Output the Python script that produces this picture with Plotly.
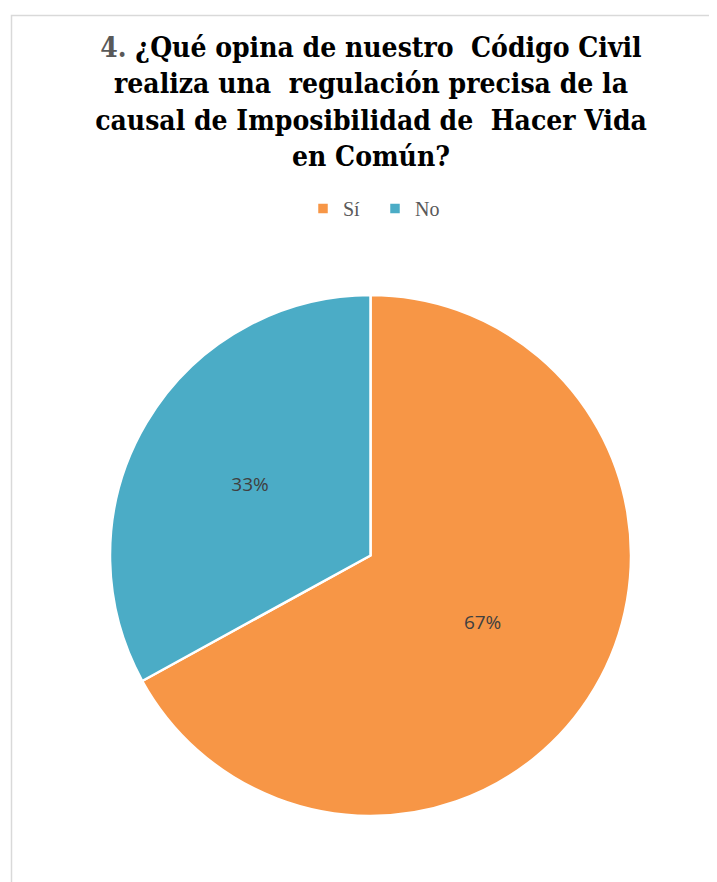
import plotly.graph_objects as go

categories = ["Sí", "No"]
values = [67, 33]
colors = ["#F79646", "#4BACC6"]

title_text = ("<span style='color:#595959'>4.</span> ¿Qué opina de nuestro  Código Civil<br>"
              "realiza una  regulación precisa de la<br>"
              "causal de Imposibilidad de  Hacer Vida<br>"
              "en Común?")

# page body has an 8px margin; work in screen pixels and convert
OFF = 8
W, H = 717 - OFF, 882 - OFF


def px(x):
    return (x - OFF) / W


def py(y):
    return 1 - (y - OFF) / H


fig = go.Figure(go.Pie(
    labels=categories,
    values=values,
    sort=False,
    direction="clockwise",
    rotation=0,
    marker=dict(colors=colors, line=dict(color="white", width=2.5)),
    texttemplate="%{percent:.0%}",
    textposition="inside",
    insidetextorientation="horizontal",
    textfont=dict(family="Open Sans", size=19, color="#404040"),
    hoverinfo="label+percent",
    domain=dict(x=[px(110), px(631)], y=[py(816), py(295)]),
))

fig.update_layout(
    width=W, height=H,
    margin=dict(l=0, r=0, t=0, b=0),
    paper_bgcolor="white",
    plot_bgcolor="white",
    title=dict(
        text=title_text,
        x=px(371), xanchor="center",
        y=py(57), yanchor="top",
        font=dict(family="DejaVu Serif Condensed", size=28, color="#000000", weight="bold"),
    ),
    legend=dict(
        orientation="h",
        x=px(375), xanchor="center",
        y=py(189), yanchor="top",
        font=dict(family="Liberation Serif", size=20, color="#595959"),
        itemwidth=30,
        entrywidth=27,
        entrywidthmode="pixels",
        traceorder="normal",
    ),
    shapes=[dict(
        type="rect", xref="paper", yref="paper",
        x0=px(11.5), x1=1.2, y0=-0.2, y1=py(15.5),
        line=dict(color="#d9d9d9", width=1.5),
        fillcolor="rgba(0,0,0,0)",
        layer="below",
    )],
)

fig.write_html("out.html")
